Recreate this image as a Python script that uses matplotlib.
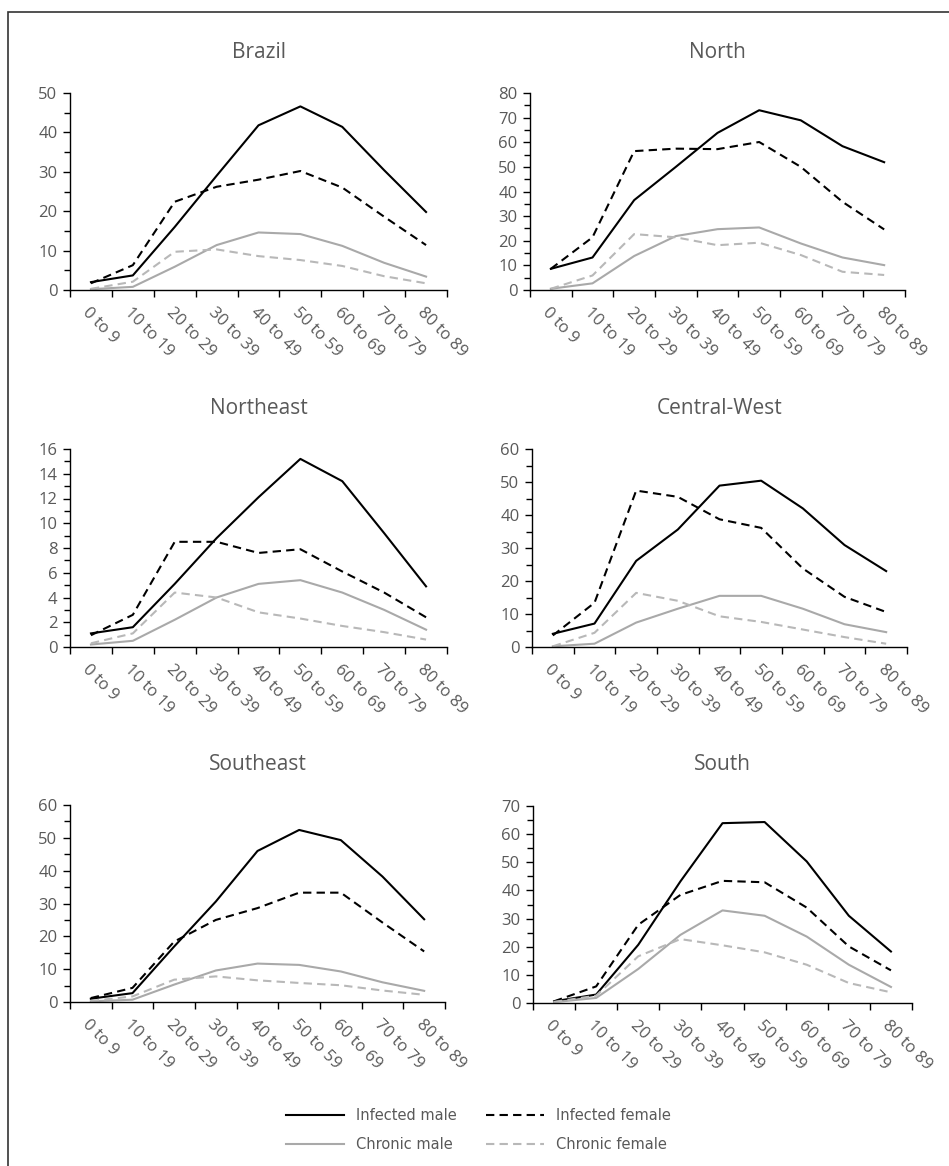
import matplotlib
matplotlib.use('Agg')
import matplotlib.pyplot as plt
import numpy as np
from matplotlib.patches import Rectangle
from matplotlib.ticker import MultipleLocator

age_groups = ['0 to 9', '10 to 19', '20 to 29', '30 to 39', '40 to 49',
              '50 to 59', '60 to 69', '70 to 79', '80 to 89']

regions = ['Brazil', 'North', 'Northeast', 'Central-West', 'Southeast', 'South']

infected_male = {
    'Brazil':       [2.0, 3.7, 16.0, 29.0, 41.8, 46.6, 41.4, 30.4, 19.8],
    'North':        [8.6, 13.2, 36.5, 50.0, 63.8, 73.0, 68.9, 58.4, 51.9],
    'Northeast':    [1.1, 1.6, 5.1, 8.8, 12.1, 15.2, 13.4, 9.2, 4.9],
    'Central-West': [4.0, 7.1, 26.1, 35.6, 48.9, 50.4, 42.0, 30.9, 23.0],
    'Southeast':    [1.0, 2.7, 16.9, 30.6, 46.0, 52.4, 49.3, 38.2, 25.2],
    'South':        [0.6, 3.0, 20.7, 43.2, 63.9, 64.3, 50.3, 31.0, 18.3],
}
infected_female = {
    'Brazil':       [1.7, 6.3, 22.4, 26.2, 28.0, 30.2, 26.0, 18.6, 11.4],
    'North':        [8.6, 21.4, 56.4, 57.4, 57.2, 60.1, 50.0, 35.8, 24.6],
    'Northeast':    [0.95, 2.6, 8.5, 8.5, 7.6, 7.9, 6.1, 4.4, 2.4],
    'Central-West': [3.5, 13.4, 47.4, 45.5, 38.7, 36.1, 23.8, 15.2, 10.6],
    'Southeast':    [1.2, 4.3, 18.4, 25.0, 28.6, 33.3, 33.3, 24.2, 15.4],
    'South':        [0.6, 5.9, 27.8, 38.4, 43.4, 42.9, 33.9, 20.1, 11.6],
}
chronic_male = {
    'Brazil':       [0.2, 0.8, 5.9, 11.4, 14.6, 14.2, 11.2, 6.9, 3.4],
    'North':        [0.5, 2.7, 13.8, 21.9, 24.7, 25.4, 18.9, 13.2, 10.1],
    'Northeast':    [0.2, 0.5, 2.2, 4.0, 5.1, 5.4, 4.4, 3.0, 1.4],
    'Central-West': [0.2, 1.0, 7.4, 11.6, 15.5, 15.5, 11.6, 6.9, 4.5],
    'Southeast':    [0.2, 0.7, 5.3, 9.6, 11.7, 11.3, 9.3, 6.0, 3.4],
    'South':        [0.3, 1.8, 12.1, 24.2, 32.9, 31.0, 23.6, 13.6, 5.7],
}
chronic_female = {
    'Brazil':       [0.3, 2.1, 9.7, 10.3, 8.6, 7.6, 6.1, 3.5, 1.7],
    'North':        [0.5, 5.9, 22.7, 21.4, 18.2, 19.2, 14.2, 7.4, 6.1],
    'Northeast':    [0.3, 1.1, 4.4, 4.0, 2.8, 2.3, 1.7, 1.2, 0.6],
    'Central-West': [0.2, 4.3, 16.4, 14.0, 9.3, 7.6, 5.3, 3.0, 1.0],
    'Southeast':    [0.3, 1.7, 6.8, 7.8, 6.6, 5.8, 5.1, 3.5, 2.2],
    'South':        [0.4, 2.6, 16.6, 22.7, 20.5, 18.0, 13.6, 7.1, 3.8],
}

y_max = {'Brazil': 50, 'North': 80, 'Northeast': 16,
         'Central-West': 60, 'Southeast': 60, 'South': 70}
y_step = {'Brazil': 10, 'North': 10, 'Northeast': 2,
          'Central-West': 10, 'Southeast': 10, 'South': 10}

# axes boxes in pixels: left, right, top, bottom
W, H = 949, 1166
boxes = {
    'Brazil':       (70, 447, 93, 290),
    'North':        (530, 905, 93, 290),
    'Northeast':    (70, 447, 449, 647),
    'Central-West': (532, 907, 449, 647),
    'Southeast':    (70, 445, 805, 1002),
    'South':        (533, 912, 806, 1003),
}

TXT = '#595959'
GRAY = '#a9a9a9'
GRAY_D = '#b8b8b8'
FONT = ['Open Sans', 'DejaVu Sans']

fig = plt.figure(figsize=(W / 100, H / 100), dpi=100)
# frame round the whole figure (cut at right and bottom, as in the source)
fig.patches.append(Rectangle((8 / W, -0.1), 1.2, 1.1 - 12 / H,
                             transform=fig.transFigure, fill=False,
                             edgecolor='#333333', linewidth=1.2))

x = np.arange(len(age_groups))
for name in regions:
    l, r, t, b = boxes[name]
    ax = fig.add_axes([l / W, 1 - b / H, (r - l) / W, (b - t) / H])
    ax.plot(x, infected_male[name], '-', color='black', lw=1.5,
            label='Infected male')
    ax.plot(x, infected_female[name], '--', color='black', lw=1.5,
            dashes=(4, 2.5), label='Infected female')
    ax.plot(x, chronic_male[name], '-', color=GRAY, lw=1.5,
            label='Chronic male')
    ax.plot(x, chronic_female[name], '--', color=GRAY_D, lw=1.5,
            dashes=(4, 2.5), label='Chronic female')

    ax.set_xlim(-0.5, len(age_groups) - 0.5)
    ax.set_ylim(0, y_max[name])
    ax.yaxis.set_major_locator(MultipleLocator(y_step[name]))
    ax.yaxis.set_minor_locator(MultipleLocator(y_step[name] / 2))
    ax.set_xticks(np.arange(-0.5, len(age_groups)))
    ax.set_xticklabels([])
    for i, lab in enumerate(age_groups):
        ax.text(i - 0.14, -0.1, lab, transform=ax.get_xaxis_transform(),
                rotation=-45, rotation_mode='anchor', ha='left', va='center',
                fontsize=12, color=TXT, family=FONT)

    for side in ('top', 'right'):
        ax.spines[side].set_visible(False)
    for side in ('left', 'bottom'):
        ax.spines[side].set_linewidth(1.0)
        ax.spines[side].set_color('black')
    ax.tick_params(axis='both', which='major', direction='out', length=5,
                   width=1.0, color='black', labelsize=12, labelcolor=TXT)
    ax.tick_params(axis='y', which='minor', direction='out', length=4,
                   width=1.0, color='black')
    for lab in ax.get_yticklabels():
        lab.set_family(FONT)
    ax.tick_params(axis='y', pad=4)

    ax.text(0.5, 1 + 41 / (b - t), name,
            transform=ax.transAxes, ha='center', va='center',
            fontsize=15, color=TXT, family=FONT)

handles, labels = ax.get_legend_handles_labels()
# matplotlib fills legend columns first; reorder so rows read as in the source
order = [0, 2, 1, 3]
leg = fig.legend([handles[i] for i in order], [labels[i] for i in order],
                 ncol=2, loc='center',
                 bbox_to_anchor=(478 / W, 1 - 1130 / H), frameon=False,
                 handlelength=4.0, columnspacing=2.0, labelspacing=1.0,
                 prop={'family': 'DejaVu Sans', 'size': 10.5})
for txt in leg.get_texts():
    txt.set_color(TXT)

fig.savefig('out.png', dpi=100)
